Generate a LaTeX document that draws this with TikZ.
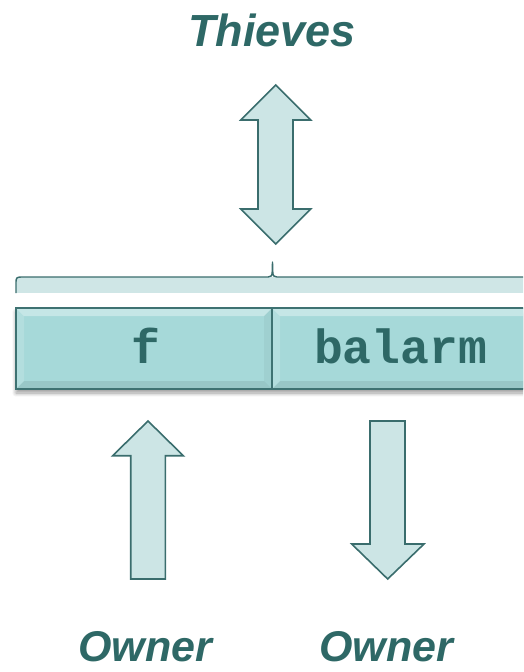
\documentclass[tikz,border=0pt]{standalone}
\usepackage{fontspec}
\setmainfont{Liberation Sans}
\newfontfamily\monofont{Liberation Mono}
\usetikzlibrary{shadows.blur}
\definecolor{tealtext}{HTML}{2E6866}
\definecolor{arrowfill}{HTML}{CCE5E5}
\definecolor{arrowline}{HTML}{3A6D6D}
\definecolor{boxfill}{HTML}{A6D9D9}
\definecolor{boxline}{HTML}{3E7272}
\definecolor{bracefill}{HTML}{CFE6E6}
\tikzset{
  lbl/.style={text=tealtext,font=\fontsize{45}{50}\selectfont\bfseries\itshape,inner sep=0pt,anchor=base},
  olbl/.style={lbl,font=\fontsize{43}{48}\selectfont\bfseries\itshape},
  fat/.style={draw=arrowline,fill=arrowfill,line width=1.6pt,line join=miter},
  code/.style={text=tealtext,font=\fontsize{48}{50}\selectfont\monofont\bfseries,inner sep=0pt,anchor=base},
}
\begin{document}
\begin{tikzpicture}[x=1pt,y=-1pt]
\useasboundingbox (0,0) rectangle (523,672);
\clip (0,0) rectangle (523,672);
% labels
\node[lbl] (thieves) at (272,46.5) {Thieves};
\node[olbl] (owner1) at (145,661) {Owner};
\node[olbl] (owner2) at (386,661) {Owner};
% double arrow
\draw[fat] (275.7,85) -- (310.7,120) -- (293,120) -- (293,209) -- (310.7,209)
  -- (275.7,244) -- (240.7,209) -- (258,209) -- (258,120) -- (240.7,120) -- cycle;
% up arrow
\draw[fat] (148,421) -- (183.3,455.7) -- (165.3,455.7) -- (165.3,579) -- (130.7,579)
  -- (130.7,455.7) -- (112.7,455.7) -- cycle;
% down arrow
\draw[fat] (370,421) -- (405,421) -- (405,544) -- (424,544) -- (387.7,579)
  -- (351.7,544) -- (370,544) -- cycle;
% brace
\fill[bracefill] (16,277) rectangle (530,293);
\draw[draw=arrowline,line width=1.4pt,line join=round]
  (16,293) -- (16,282) .. controls (16,278) and (17,277) .. (21,277)
  -- (268,277) .. controls (271,277) and (272,276) .. (272.2,272) -- (272.5,262)
  -- (272.8,272) .. controls (273,276) and (274,277) .. (277,277) -- (530,277);
% shadow
\fill[black!60,opacity=0.35,blur shadow={shadow xshift=0pt,shadow yshift=-4pt,shadow blur steps=8,shadow blur radius=4pt}] (16,308) rectangle (540,389);
% boxes
\foreach \a/\b in {16/272,272/540}{
  \fill[boxfill] (\a,308) rectangle (\b,389);
  \fill[white,opacity=0.35] (\a,308) -- (\b,308) -- (\b-8,316) -- (\a+8,316) -- cycle;
  \fill[white,opacity=0.15] (\a,308) -- (\a+8,316) -- (\a+8,381) -- (\a,389) -- cycle;
  \fill[black,opacity=0.08] (\a,389) -- (\b,389) -- (\b-8,381) -- (\a+8,381) -- cycle;
  \fill[black,opacity=0.04] (\b,308) -- (\b-8,316) -- (\b-8,381) -- (\b,389) -- cycle;
  \draw[boxline,line width=1.6pt] (\a,308) rectangle (\b,389);
}
\node[code] (f) at (146,363) {f};
\node[code] (balarm) at (400.5,363) {balarm};
\end{tikzpicture}
\end{document}
